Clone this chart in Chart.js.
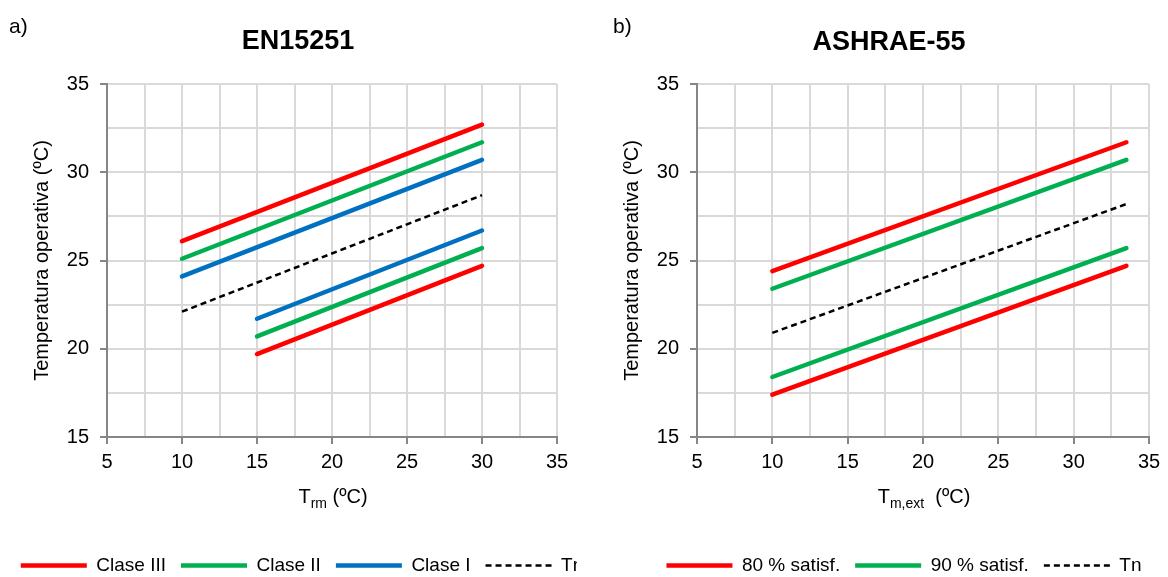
<!DOCTYPE html>
<html lang="es">
<head>
<meta charset="utf-8">
<title>EN15251 / ASHRAE-55</title>
<script src="https://cdn.jsdelivr.net/npm/chart.js@4.4.1/dist/chart.umd.min.js"></script>
<style>
  body { margin: 0; background: #fff; font-family: 'Liberation Sans', Arial, sans-serif; color: #000; }
  #page { position: relative; width: 1168px; height: 577px; overflow: hidden; }
  .wrap { position: absolute; top: 0; height: 577px; overflow: hidden; }
  .txt { position: absolute; white-space: nowrap; line-height: 1; }
  .lbl { font-size: 21px; }
  .ttl { font-size: 27px; font-weight: bold; transform: translateX(-50%); }
  .axt { font-size: 20px; transform: translateX(-50%); }
  .axt sub { font-size: 14px; vertical-align: -5px; }
</style>
</head>
<body>
<div id="page">
  <div class="wrap" style="left:0; width:577px;"><canvas id="graficoA" width="604" height="600"></canvas></div>
  <div class="wrap" style="left:590px; width:578px;"><canvas id="graficoB" width="628" height="600"></canvas></div>

  <div class="txt lbl" style="left:9px; top:15px;">a)</div>
  <div class="txt ttl" style="left:298px; top:27px;">EN15251</div>
  <div class="txt axt" style="left:333px; top:486px;">T<sub>rm</sub> (ºC)</div>

  <div class="txt lbl" style="left:613px; top:15px;">b)</div>
  <div class="txt ttl" style="left:889px; top:28px;">ASHRAE-55</div>
  <div class="txt axt" style="left:924px; top:486px;">T<sub>m,ext</sub>&nbsp; (ºC)</div>
</div>

<script>
// a) EN15251 - temperatura media exterior ponderada (Trm)
const trmSup = [10, 30];
const trmInf = [15, 30];
const claseIIISup = [26.1, 32.7];
const claseIISup = [25.1, 31.7];
const claseISup = [24.1, 30.7];
const tnEN = [22.1, 28.7];
const claseIInf = [21.7, 26.7];
const claseIIInf = [20.7, 25.7];
const claseIIIInf = [19.7, 24.7];

// b) ASHRAE-55 - temperatura media exterior (Tm,ext)
const tmExt = [10, 33.5];
const sat80Sup = [24.4, 31.7];
const sat90Sup = [23.4, 30.7];
const tnASH = [20.9, 28.2];
const sat90Inf = [18.4, 25.7];
const sat80Inf = [17.4, 24.7];

// ejes
const ejeX = { min: 5, max: 35, paso: 2.5 };
const ejeY = { min: 15, max: 35, paso: 2.5 };

const FUENTE = "'Liberation Sans', Arial, sans-serif";
const ROJO = '#ff0000', VERDE = '#00b050', AZUL = '#0070c0', NEGRO = '#000000';
const GRIS_EJE = '#868686', GRIS_REJILLA = '#d9d9d9';

function puntos(xs, ys) {
  return xs.map((x, i) => ({ x: x, y: ys[i] }));
}

function linea(label, xs, ys, color, sinLeyenda) {
  const discontinua = color === NEGRO;
  return {
    label: label,
    data: puntos(xs, ys),
    showLine: true,
    borderColor: color,
    backgroundColor: color,
    borderWidth: discontinua ? 2.5 : 4.5,
    borderDash: discontinua ? [6, 4] : [],
    borderCapStyle: discontinua ? 'butt' : 'round',
    pointRadius: 0,
    sinLeyenda: !!sinLeyenda
  };
}

function esMayor(v) {
  return Math.abs(v % 5) < 1e-9;
}

// la leyenda con pointStyle no copia el trazo discontinuo: se lo pasamos a mano
function etiquetas(chart) {
  return Chart.defaults.plugins.legend.labels.generateLabels(chart).map(item => {
    const ds = chart.data.datasets[item.datasetIndex];
    item.lineDash = ds.borderDash;
    item.lineWidth = ds.borderWidth;
    item.lineCap = 'butt';
    return item;
  });
}

function opciones(anchoDerecha) {
  const tickCol = ctx => (ctx.tick && esMayor(ctx.tick.value)) ? GRIS_EJE : 'rgba(0,0,0,0)';
  return {
    responsive: false,
    animation: false,
    layout: { padding: { top: 84, bottom: 15, left: 0, right: 0 } },
    plugins: {
      legend: {
        position: 'bottom',
        labels: {
          usePointStyle: true,
          pointStyle: 'line',
          pointStyleWidth: 66,
          padding: 15,
          color: '#000',
          font: { size: 19, family: FUENTE },
          generateLabels: etiquetas,
          filter: (item, data) => !data.datasets[item.datasetIndex].sinLeyenda
        }
      },
      tooltip: { enabled: false }
    },
    scales: {
      x: {
        type: 'linear',
        min: ejeX.min, max: ejeX.max,
        ticks: {
          stepSize: ejeX.paso,
          autoSkip: false, maxRotation: 0,
          padding: 6,
          color: '#000',
          font: { size: 20, family: FUENTE },
          callback: v => esMayor(v) ? v : ''
        },
        grid: { color: GRIS_REJILLA, lineWidth: 2, tickLength: 7, tickWidth: 2, tickColor: tickCol },
        border: { color: GRIS_EJE, width: 2 },
        afterFit: s => { s.height = 104; }
      },
      y: {
        type: 'linear',
        min: ejeY.min, max: ejeY.max,
        ticks: {
          stepSize: ejeY.paso,
          autoSkip: false,
          padding: 11,
          color: '#000',
          font: { size: 20, family: FUENTE },
          callback: v => esMayor(v) ? v : ''
        },
        grid: { color: GRIS_REJILLA, lineWidth: 2, tickLength: 7, tickWidth: 2, tickColor: tickCol },
        border: { color: GRIS_EJE, width: 2 },
        title: {
          display: true,
          text: 'Temperatura operativa (ºC)',
          color: '#000',
          font: { size: 20, family: FUENTE },
          padding: { top: 30, bottom: 0 }
        },
        afterFit: s => { s.width = 107; }
      },
      margen: {
        type: 'linear', position: 'right', min: 0, max: 1,
        grid: { display: false, drawTicks: false },
        border: { display: false },
        ticks: { display: false },
        afterFit: s => { s.width = anchoDerecha; }
      }
    }
  };
}

new Chart(document.getElementById('graficoA'), {
  type: 'scatter',
  data: {
    datasets: [
      linea('Clase III', trmSup, claseIIISup, ROJO),
      linea('Clase II', trmSup, claseIISup, VERDE),
      linea('Clase I', trmSup, claseISup, AZUL),
      linea('Tn', trmSup, tnEN, NEGRO),
      linea('Clase I', trmInf, claseIInf, AZUL, true),
      linea('Clase II', trmInf, claseIIInf, VERDE, true),
      linea('Clase III', trmInf, claseIIIInf, ROJO, true)
    ]
  },
  options: opciones(47)
});

new Chart(document.getElementById('graficoB'), {
  type: 'scatter',
  data: {
    datasets: [
      linea('80 % satisf.', tmExt, sat80Sup, ROJO),
      linea('90 % satisf.', tmExt, sat90Sup, VERDE),
      linea('Tn', tmExt, tnASH, NEGRO),
      linea('90 % satisf.', tmExt, sat90Inf, VERDE, true),
      linea('80 % satisf.', tmExt, sat80Inf, ROJO, true)
    ]
  },
  options: opciones(69)
});
</script>
</body>
</html>
